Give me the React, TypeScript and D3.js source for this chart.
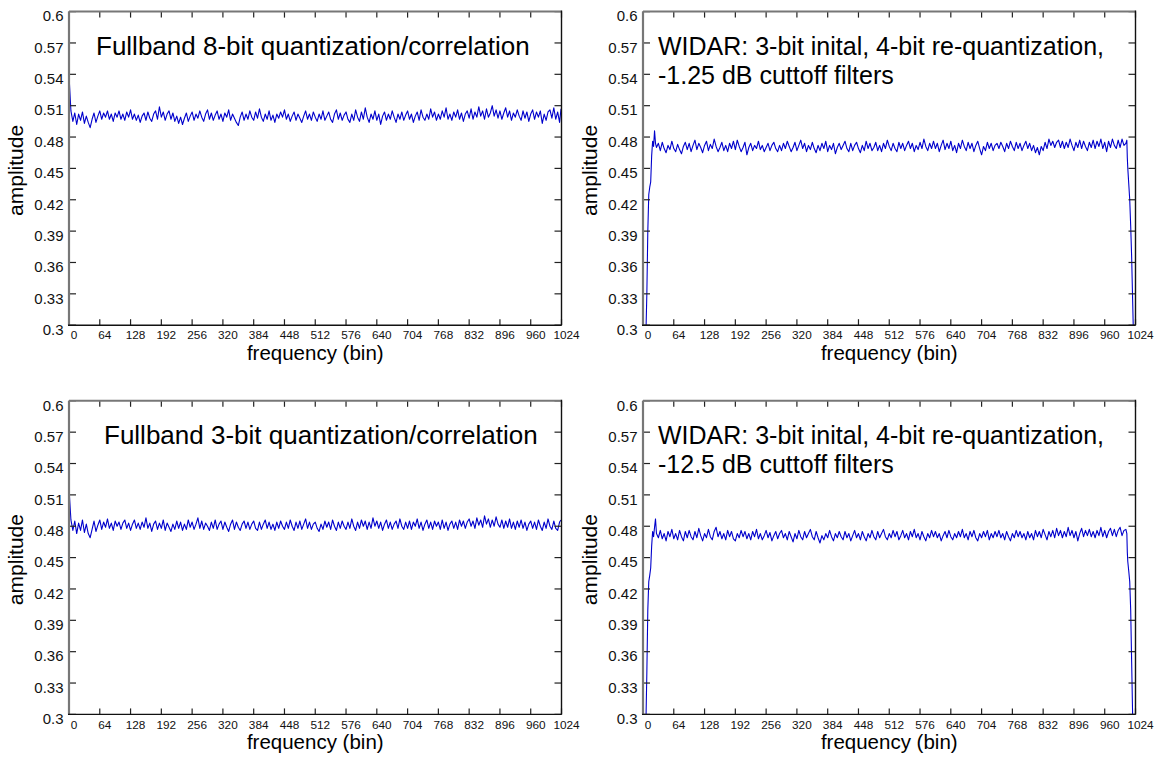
import React from 'react';
import * as d3 from 'd3';

// axis ticks shared by all four panels
const yTicks = [0.3, 0.33, 0.36, 0.39, 0.42, 0.45, 0.48, 0.51, 0.54, 0.57, 0.6];
const yTickLabels = ['0.3', '0.33', '0.36', '0.39', '0.42', '0.45', '0.48', '0.51', '0.54', '0.57', '0.6'];
const xTicks = [0, 64, 128, 192, 256, 320, 384, 448, 512, 576, 640, 704, 768, 832, 896, 960, 1024];

// fullband spectra: one value every 4 bins, plus the last bin
const fullBins = [...d3.range(0, 1024, 4), 1023];

const fullband8 = [
  0.539, 0.505, 0.495, 0.503, 0.492, 0.502, 0.496, 0.504, 0.493, 0.500, 0.494, 0.489, 0.497, 0.503, 0.494, 0.500,
  0.505, 0.497, 0.503, 0.499, 0.505, 0.497, 0.502, 0.495, 0.503, 0.499, 0.505, 0.497, 0.502, 0.496, 0.504, 0.499,
  0.506, 0.497, 0.502, 0.496, 0.501, 0.494, 0.500, 0.503, 0.496, 0.504, 0.498, 0.495, 0.502, 0.505, 0.497, 0.509,
  0.499, 0.504, 0.496, 0.502, 0.505, 0.497, 0.503, 0.495, 0.500, 0.493, 0.499, 0.492, 0.498, 0.503, 0.495, 0.500,
  0.504, 0.496, 0.502, 0.498, 0.505, 0.499, 0.495, 0.502, 0.506, 0.497, 0.503, 0.496, 0.501, 0.505, 0.497, 0.502,
  0.495, 0.503, 0.499, 0.506, 0.496, 0.502, 0.498, 0.494, 0.491, 0.499, 0.504, 0.496, 0.502, 0.497, 0.505, 0.499,
  0.496, 0.504, 0.498, 0.507, 0.499, 0.495, 0.502, 0.497, 0.505, 0.496, 0.501, 0.494, 0.502, 0.498, 0.504, 0.499,
  0.506, 0.497, 0.502, 0.495, 0.500, 0.504, 0.496, 0.502, 0.498, 0.494, 0.500, 0.505, 0.497, 0.502, 0.496, 0.504,
  0.499, 0.495, 0.502, 0.497, 0.505, 0.496, 0.500, 0.504, 0.497, 0.494, 0.502, 0.506, 0.497, 0.503, 0.496, 0.501,
  0.504, 0.497, 0.494, 0.502, 0.496, 0.506, 0.499, 0.495, 0.504, 0.497, 0.508, 0.499, 0.494, 0.502, 0.497, 0.505,
  0.496, 0.502, 0.492, 0.500, 0.504, 0.496, 0.502, 0.497, 0.505, 0.499, 0.494, 0.502, 0.497, 0.504, 0.496, 0.501,
  0.505, 0.497, 0.502, 0.494, 0.500, 0.504, 0.496, 0.506, 0.499, 0.496, 0.502, 0.497, 0.507, 0.499, 0.504, 0.496,
  0.502, 0.497, 0.505, 0.499, 0.508, 0.497, 0.502, 0.496, 0.504, 0.499, 0.506, 0.497, 0.503, 0.495, 0.502, 0.505,
  0.498, 0.507, 0.497, 0.504, 0.499, 0.509, 0.500, 0.505, 0.497, 0.507, 0.499, 0.503, 0.510, 0.500, 0.506, 0.498,
  0.505, 0.497, 0.503, 0.508, 0.499, 0.505, 0.496, 0.503, 0.499, 0.506, 0.500, 0.496, 0.505, 0.498, 0.504, 0.495,
  0.502, 0.506, 0.497, 0.504, 0.499, 0.505, 0.493, 0.502, 0.496, 0.504, 0.506, 0.498, 0.508, 0.497, 0.504, 0.494,
  0.507,
];

const fullband3 = [
  0.516, 0.486, 0.476, 0.485, 0.473, 0.483, 0.476, 0.486, 0.474, 0.482, 0.473, 0.469, 0.477, 0.485, 0.475, 0.481,
  0.486, 0.477, 0.484, 0.479, 0.487, 0.478, 0.483, 0.476, 0.485, 0.480, 0.484, 0.477, 0.483, 0.486, 0.478, 0.483,
  0.476, 0.482, 0.486, 0.478, 0.483, 0.477, 0.484, 0.479, 0.488, 0.478, 0.483, 0.475, 0.482, 0.485, 0.477, 0.483,
  0.478, 0.486, 0.476, 0.483, 0.479, 0.475, 0.482, 0.477, 0.485, 0.478, 0.484, 0.476, 0.482, 0.477, 0.486, 0.479,
  0.484, 0.477, 0.482, 0.488, 0.478, 0.485, 0.477, 0.483, 0.480, 0.476, 0.484, 0.478, 0.486, 0.477, 0.482, 0.485,
  0.477, 0.484, 0.479, 0.475, 0.482, 0.486, 0.477, 0.484, 0.479, 0.476, 0.482, 0.485, 0.478, 0.484, 0.477, 0.482,
  0.485, 0.478, 0.476, 0.484, 0.477, 0.482, 0.486, 0.478, 0.484, 0.477, 0.482, 0.476, 0.484, 0.478, 0.485, 0.480,
  0.477, 0.484, 0.478, 0.486, 0.480, 0.476, 0.484, 0.478, 0.485, 0.477, 0.482, 0.487, 0.478, 0.484, 0.477, 0.482,
  0.484, 0.478, 0.475, 0.482, 0.477, 0.485, 0.479, 0.484, 0.477, 0.486, 0.480, 0.476, 0.484, 0.478, 0.485, 0.480,
  0.477, 0.484, 0.478, 0.487, 0.480, 0.476, 0.484, 0.478, 0.486, 0.480, 0.485, 0.477, 0.484, 0.478, 0.488, 0.480,
  0.485, 0.478, 0.484, 0.476, 0.482, 0.486, 0.478, 0.484, 0.477, 0.482, 0.485, 0.478, 0.487, 0.480, 0.477, 0.484,
  0.478, 0.485, 0.477, 0.484, 0.480, 0.487, 0.478, 0.484, 0.476, 0.482, 0.486, 0.478, 0.484, 0.477, 0.485, 0.480,
  0.484, 0.477, 0.486, 0.478, 0.484, 0.476, 0.482, 0.485, 0.478, 0.484, 0.477, 0.486, 0.480, 0.485, 0.478, 0.484,
  0.487, 0.480, 0.485, 0.478, 0.488, 0.481, 0.486, 0.479, 0.490, 0.482, 0.487, 0.479, 0.486, 0.480, 0.489, 0.482,
  0.479, 0.486, 0.478, 0.485, 0.479, 0.487, 0.478, 0.484, 0.477, 0.485, 0.479, 0.486, 0.478, 0.484, 0.476, 0.482,
  0.485, 0.478, 0.484, 0.477, 0.486, 0.480, 0.476, 0.484, 0.478, 0.487, 0.480, 0.477, 0.485, 0.478, 0.476, 0.484,
  0.486,
];

// WIDAR spectra: finer bins at the band edges where the filters roll off
const widarLowBins = [0, 4, 6, 8, 10, 12, 14, 16, 18, 20, 22, 24, 26, 28];
const widarMidBins = d3.range(32, 1004, 4);
const widarHighBins = [1004, 1006, 1007, 1008, 1010, 1012, 1014, 1016, 1018, 1020, 1023];
const widarBins = [...widarLowBins, ...widarMidBins, ...widarHighBins];

const widar125Low = [0.22, 0.26, 0.29, 0.33, 0.39, 0.425, 0.432, 0.437, 0.462, 0.476, 0.471, 0.486, 0.474, 0.470];
const widar125Mid = [
  0.474, 0.467, 0.475, 0.469, 0.465, 0.472, 0.468, 0.476, 0.469, 0.466, 0.473, 0.468, 0.464, 0.471, 0.475, 0.468,
  0.474, 0.466, 0.472, 0.477, 0.468, 0.474, 0.470, 0.465, 0.472, 0.476, 0.467, 0.473, 0.469, 0.478, 0.471, 0.466,
  0.470, 0.475, 0.467, 0.472, 0.466, 0.474, 0.469, 0.476, 0.468, 0.477, 0.471, 0.466, 0.470, 0.475, 0.463, 0.470,
  0.474, 0.467, 0.472, 0.469, 0.476, 0.468, 0.472, 0.466, 0.470, 0.474, 0.467, 0.472, 0.475, 0.469, 0.466, 0.472,
  0.467, 0.474, 0.469, 0.476, 0.471, 0.466, 0.470, 0.475, 0.467, 0.472, 0.477, 0.469, 0.474, 0.466, 0.472, 0.468,
  0.475, 0.469, 0.465, 0.472, 0.467, 0.474, 0.469, 0.476, 0.466, 0.472, 0.468, 0.474, 0.464, 0.470, 0.474, 0.468,
  0.472, 0.476, 0.469, 0.466, 0.474, 0.467, 0.472, 0.475, 0.469, 0.465, 0.472, 0.467, 0.476, 0.469, 0.474, 0.467,
  0.470, 0.475, 0.467, 0.472, 0.466, 0.474, 0.469, 0.477, 0.471, 0.467, 0.474, 0.469, 0.466, 0.475, 0.469, 0.474,
  0.467, 0.472, 0.476, 0.469, 0.474, 0.466, 0.472, 0.468, 0.475, 0.469, 0.478, 0.471, 0.467, 0.474, 0.469, 0.476,
  0.469, 0.474, 0.466, 0.472, 0.477, 0.468, 0.474, 0.469, 0.476, 0.467, 0.472, 0.465, 0.474, 0.469, 0.477, 0.471,
  0.467, 0.475, 0.469, 0.474, 0.466, 0.472, 0.476, 0.469, 0.463, 0.471, 0.467, 0.475, 0.469, 0.474, 0.467, 0.472,
  0.474, 0.469, 0.475, 0.471, 0.466, 0.474, 0.469, 0.476, 0.471, 0.467, 0.475, 0.469, 0.474, 0.467, 0.472, 0.476,
  0.469, 0.474, 0.467, 0.472, 0.465, 0.470, 0.463, 0.471, 0.467, 0.475, 0.469, 0.478, 0.472, 0.476, 0.470, 0.475,
  0.477, 0.470, 0.476, 0.469, 0.475, 0.470, 0.478, 0.472, 0.467, 0.475, 0.470, 0.477, 0.469, 0.476, 0.471, 0.467,
  0.475, 0.470, 0.477, 0.469, 0.476, 0.471, 0.478, 0.469, 0.475, 0.466, 0.476, 0.470, 0.478, 0.472, 0.469, 0.477,
  0.470, 0.478, 0.472,
];
const widar125High = [0.474, 0.477, 0.46, 0.45, 0.435, 0.42, 0.395, 0.365, 0.325, 0.285, 0.24];
const widar125 = [...widar125Low, ...widar125Mid, ...widar125High];

const widar12Low = [0.22, 0.26, 0.29, 0.34, 0.40, 0.427, 0.433, 0.440, 0.461, 0.475, 0.470, 0.479, 0.487, 0.473];
const widar12Mid = [
  0.469, 0.476, 0.468, 0.473, 0.466, 0.475, 0.470, 0.477, 0.468, 0.473, 0.467, 0.476, 0.470, 0.466, 0.475, 0.469,
  0.476, 0.470, 0.467, 0.475, 0.469, 0.478, 0.471, 0.466, 0.473, 0.469, 0.477, 0.470, 0.467, 0.475, 0.479, 0.470,
  0.475, 0.468, 0.473, 0.467, 0.476, 0.470, 0.475, 0.468, 0.466, 0.473, 0.469, 0.476, 0.470, 0.475, 0.468, 0.473,
  0.467, 0.475, 0.470, 0.477, 0.468, 0.473, 0.467, 0.471, 0.476, 0.469, 0.474, 0.466, 0.471, 0.475, 0.468, 0.473,
  0.476, 0.469, 0.473, 0.467, 0.475, 0.470, 0.465, 0.473, 0.468, 0.476, 0.470, 0.467, 0.475, 0.469, 0.473, 0.477,
  0.470, 0.467, 0.475, 0.469, 0.464, 0.471, 0.467, 0.473, 0.469, 0.476, 0.470, 0.466, 0.473, 0.469, 0.475, 0.470,
  0.467, 0.475, 0.469, 0.473, 0.466, 0.471, 0.476, 0.469, 0.473, 0.467, 0.475, 0.470, 0.466, 0.473, 0.469, 0.476,
  0.470, 0.467, 0.475, 0.469, 0.473, 0.477, 0.470, 0.467, 0.473, 0.469, 0.476, 0.470, 0.475, 0.467, 0.471, 0.476,
  0.469, 0.473, 0.467, 0.475, 0.470, 0.477, 0.469, 0.473, 0.467, 0.475, 0.470, 0.466, 0.473, 0.469, 0.476, 0.470,
  0.475, 0.469, 0.473, 0.466, 0.471, 0.475, 0.469, 0.476, 0.470, 0.467, 0.473, 0.469, 0.475, 0.470, 0.477, 0.469,
  0.473, 0.467, 0.475, 0.470, 0.476, 0.469, 0.466, 0.473, 0.469, 0.475, 0.470, 0.476, 0.467, 0.473, 0.469, 0.475,
  0.470, 0.476, 0.469, 0.473, 0.467, 0.475, 0.470, 0.466, 0.473, 0.469, 0.476, 0.470, 0.475, 0.469, 0.473, 0.467,
  0.475, 0.469, 0.473, 0.467, 0.476, 0.470, 0.475, 0.469, 0.477, 0.472, 0.467, 0.475, 0.470, 0.476, 0.469, 0.478,
  0.471, 0.476, 0.469, 0.475, 0.470, 0.479, 0.471, 0.476, 0.469, 0.475, 0.466, 0.473, 0.478, 0.470, 0.476, 0.471,
  0.477, 0.470, 0.475, 0.469, 0.476, 0.471, 0.479, 0.470, 0.476, 0.469, 0.475, 0.478, 0.471, 0.477, 0.470, 0.476,
  0.479, 0.471, 0.476,
];
const widar12High = [0.477, 0.473, 0.455, 0.446, 0.437, 0.427, 0.40, 0.35, 0.30, 0.26, 0.22];
const widar12 = [...widar12Low, ...widar12Mid, ...widar12High];

const FONT = "Arial, 'Liberation Sans', Helvetica, sans-serif";
const W = 1158;
const H = 757;

interface PanelProps {
  id: string;
  left: number;
  top: number;
  bins: number[];
  values: number[];
  title: string[];
  titleX: number;
  titleSize: number;
}

const PW = 492.5;
const PH = 313.6;

function Panel({ id, left, top, bins, values, title, titleX, titleSize }: PanelProps) {
  const x = d3.scaleLinear().domain([0, 1024]).range([left, left + PW]);
  const y = d3.scaleLinear().domain([0.3, 0.6]).range([top + PH, top]);
  const line = d3.line<number>()
    .x((_, i) => x(bins[i]))
    .y(d => y(d));
  const bottom = top + PH;
  const right = left + PW;

  return (
    <g>
      <defs>
        <clipPath id={id}>
          <rect x={left} y={top} width={PW} height={PH} />
        </clipPath>
      </defs>

      {/* title text inside the axes */}
      {title.map((t, i) => (
        <text key={t} x={titleX} y={top + 43.2 + i * 28.8} fontSize={titleSize} fill="#000">{t}</text>
      ))}

      <path d={line(values) || ''} fill="none" stroke="#0000cc" strokeWidth={1.1}
        strokeLinejoin="round" clipPath={`url(#${id})`} />

      {/* ticks, pointing inwards on all four sides */}
      {yTicks.map(t => (
        <g key={'y' + t}>
          <line x1={left} x2={left + 7} y1={y(t)} y2={y(t)} stroke="#222" strokeWidth={1.2} />
          <line x1={right} x2={right - 7} y1={y(t)} y2={y(t)} stroke="#222" strokeWidth={1.2} />
        </g>
      ))}
      {xTicks.map(t => (
        <g key={'x' + t}>
          <line x1={x(t)} x2={x(t)} y1={bottom} y2={bottom - 6} stroke="#222" strokeWidth={1.2} />
          <line x1={x(t)} x2={x(t)} y1={top} y2={top + 6} stroke="#222" strokeWidth={1.2} />
        </g>
      ))}

      {/* box */}
      <line x1={left} x2={right} y1={top} y2={top} stroke="#777" strokeWidth={2} />
      <line x1={left} x2={left} y1={top} y2={bottom} stroke="#777" strokeWidth={2.2} />
      <line x1={left - 1} x2={right} y1={bottom} y2={bottom} stroke="#111" strokeWidth={1.4} />
      <line x1={right} x2={right} y1={top - 1} y2={bottom} stroke="#111" strokeWidth={1.4} />

      {/* tick labels */}
      {yTicks.map((t, i) => (
        <text key={'yl' + t} x={left - 5.5} y={y(t) + 9.8} textAnchor="end" fontSize={15} fill="#111">
          {yTickLabels[i]}
        </text>
      ))}
      {xTicks.map(t => (
        <text key={'xl' + t} x={x(t) + 5} y={bottom + 14.2} textAnchor="middle" fontSize={11.8} fill="#111">
          {t}
        </text>
      ))}

      <text x={(left + right) / 2} y={bottom + 34.5} textAnchor="middle" fontSize={20.5}>frequency (bin)</text>
      <text transform={`translate(${left - 46.5},${(top + bottom) / 2 + 2}) rotate(-90)`}
        textAnchor="middle" fontSize={21}>amplitude</text>
    </g>
  );
}

export default function App() {
  return (
    <svg width={W} height={H} viewBox={`0 0 ${W} ${H}`}
      style={{ position: 'absolute', left: 0, top: 0, background: '#fff', fontFamily: FONT }}>
      <rect width={W} height={H} fill="#fff" />
      <Panel id="c1" left={69} top={11.6} bins={fullBins} values={fullband8}
        title={['Fullband 8-bit quantization/correlation']} titleX={96} titleSize={26} />
      <Panel id="c2" left={643} top={11.6} bins={widarBins} values={widar125}
        title={['WIDAR: 3-bit inital, 4-bit re-quantization,', '-1.25 dB cuttoff filters']} titleX={658} titleSize={25} />
      <Panel id="c3" left={69} top={400.8} bins={fullBins} values={fullband3}
        title={['Fullband 3-bit quantization/correlation']} titleX={104} titleSize={26} />
      <Panel id="c4" left={643} top={400.8} bins={widarBins} values={widar12}
        title={['WIDAR: 3-bit inital, 4-bit re-quantization,', '-12.5 dB cuttoff filters']} titleX={658} titleSize={25} />
    </svg>
  );
}
